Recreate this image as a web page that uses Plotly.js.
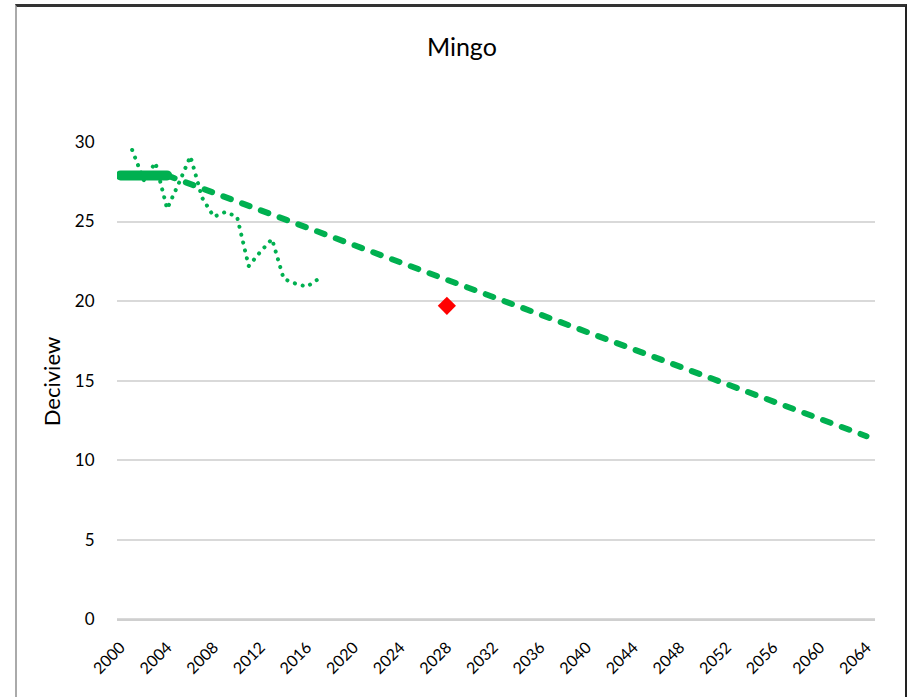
<!DOCTYPE html>
<html>
<head>
<meta charset="utf-8">
<script src="https://cdn.plot.ly/plotly-3.0.1.min.js"></script>
<style>
html,body{margin:0;padding:0;background:#fff;}
#wrap{position:relative;width:911px;height:697px;}
#chart{position:absolute;left:0;top:0;width:911px;height:697px;}
#frame{position:absolute;left:15px;top:4px;width:888px;height:691px;border-top:3px solid #333;border-left:2px solid #aaa;border-right:2px solid #222;border-bottom:1px solid #ddd;pointer-events:none;}
.scatterlayer .js-line{stroke-linecap:round;}
</style>
</head>
<body>
<div id="wrap"><div id="chart"></div><div id="frame"></div></div>
<script>
// Observed (dotted)
var obsYears = [2001,2002,2003,2004,2005,2006,2007,2008,2009,2010,2011,2012,2013,2014,2015,2016,2017];
var obsValues = [29.5,27.6,28.7,25.8,27.4,29.1,26.5,25.3,25.6,25.3,22.2,23.1,23.9,21.4,21.1,20.9,21.4];
// Baseline (thick solid)
var baseYears = [2000,2004];
var baseValues = [27.9,27.9];
// Glide path (dashed)
var glideYears = [2004,2064];
var glideValues = [27.9,11.5];
// 2028 projection (red diamond)
var projYears = [2028];
var projValues = [19.7];
// Axis ticks
var xTicks = [2000,2004,2008,2012,2016,2020,2024,2028,2032,2036,2040,2044,2048,2052,2056,2060,2064];
var yTicks = [0,5,10,15,20,25,30];

var green = '#00b050';
var traces = [
  {x: glideYears, y: glideValues, mode:'lines', line:{color:green, width:6, dash:'8px,12px'}, hoverinfo:'skip'},
  {x: obsYears, y: obsValues, mode:'lines', line:{color:green, width:4, dash:'0.1px,8px'}, hoverinfo:'skip'},
  {x: baseYears, y: baseValues, mode:'lines', line:{color:green, width:10}, hoverinfo:'skip'},
  {x: projYears, y: projValues, mode:'markers', marker:{symbol:'diamond', color:'#ff0000', size:14}, hoverinfo:'skip'}
];

var font = 'Lato, "Liberation Sans", sans-serif';
var layout = {
  width:911, height:697,
  margin:{l:117, r:36, t:142, b:76},
  paper_bgcolor:'#fff', plot_bgcolor:'#fff',
  showlegend:false,
  font:{family:font, color:'#000'},
  title:{text:'Mingo', x:0.507, xanchor:'center', y:0.932, yanchor:'middle', font:{family:font, size:25, color:'#000'}},
  xaxis:{
    range:[1999.7, 2064.73],
    tickmode:'array', tickvals:xTicks, ticktext:xTicks.map(String),
    tickangle:-45, tickfont:{family:font, size:16, color:'#000'},
    ticks:'', 
    showgrid:false, zeroline:false, showline:false
  },
  yaxis:{
    range:[-0.12,30],
    tickmode:'array', tickvals:yTicks,
    tickfont:{family:font, size:17, color:'#000'},
    ticks:'outside', ticklen:18, tickcolor:'rgba(0,0,0,0)',
    showgrid:true, gridcolor:'#d9d9d9', gridwidth:2,
    zeroline:false, showline:false,
    title:{text:'Deciview', font:{family:font, size:22, color:'#000'}, standoff:8}
  },
  shapes:[{type:'line', xref:'paper', x0:0, x1:1, yref:'paper', y0:0.002, y1:0.002, layer:'above', line:{color:'#cfcfcf', width:2}}]
};
Plotly.newPlot('chart', traces, layout, {displayModeBar:false, staticPlot:true}).then(function(gd){
  // push x tick labels down to match reference spacing
  var labels = gd.querySelectorAll('.xtick text');
  labels.forEach(function(t){
    var tr = t.getAttribute('transform') || '';
    t.setAttribute('transform', 'translate(0,13) ' + tr);
  });
});
</script>
</body>
</html>
